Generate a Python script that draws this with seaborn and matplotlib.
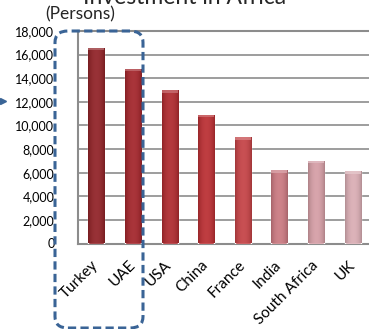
import numpy as np
import matplotlib
matplotlib.use("Agg")
import matplotlib.pyplot as plt
import matplotlib.colors as mcolors
from matplotlib.patches import FancyBboxPatch
import seaborn as sns
import pandas as pd

# Visitors by origin country
countries = ["Turkey", "UAE", "USA", "China", "France", "India", "South Africa", "UK"]
persons = [16600, 14800, 13000, 10900, 9000, 6200, 7000, 6100]
bar_colors = ["#8c1a1f", "#9f1d23", "#ab2227", "#b7272b", "#c23b3f", "#c8747c", "#d39aa2", "#d8aab1"]
yticks = [0, 2000, 4000, 6000, 8000, 10000, 12000, 14000, 16000, 18000]

sns.set_theme(style="white")
plt.rcParams["font.family"] = ["Lato", "DejaVu Sans"]

df = pd.DataFrame({"country": countries, "persons": persons})

fig = plt.figure(figsize=(3.69, 3.29), dpi=100)
ax = fig.add_axes([78 / 369, 1 - 243.5 / 329, 293 / 369, (243.5 - 31) / 329])

sns.barplot(data=df, x="country", y="persons", hue="country", palette=bar_colors,
            legend=False, width=0.44, ax=ax, saturation=1, zorder=3)

# cylinder-style shading on each bar
shade = np.linspace(0, 1, 64)
profile = np.sin(np.pi * (shade * 0.9 + 0.05)) ** 0.7
for patch, col in zip(ax.patches, bar_colors):
    x0, y0 = patch.get_x(), patch.get_y()
    w, h = patch.get_width(), patch.get_height()
    base = np.array(mcolors.to_rgb(col))
    light = np.clip(base + (1 - base) * 0.35, 0, 1)
    img = np.empty((1, 64, 3))
    for i, t in enumerate(profile):
        img[0, i] = base * (0.72 + 0.28 * t) * (1 - t * 0.3) + light * t * 0.3
    im = ax.imshow(img, extent=[x0, x0 + w, y0, y0 + h], aspect="auto",
                   interpolation="bilinear", zorder=4)
    im.set_clip_path(patch)
    cap = FancyBboxPatch((x0, y0 + h - 220), w, 220, boxstyle="square,pad=0",
                         facecolor=light, edgecolor="none", alpha=0.8, zorder=5)
    ax.add_patch(cap)

ax.set_xlim(-0.5, 7.5)
ax.set_ylim(0, 18000)
ax.set_yticks(yticks)
ax.set_yticklabels([f"{v:,}" for v in yticks], fontsize=9)
ax.set_xlabel("")
ax.set_ylabel("")
ax.yaxis.grid(True, color="#8c8c8c", linewidth=1.2, zorder=0)
ax.set_axisbelow(True)
for s in ax.spines.values():
    s.set_color("#8c8c8c")
    s.set_linewidth(1.5)
ax.tick_params(axis="y", length=0, pad=17, colors="black")
ax.tick_params(axis="x", length=0, pad=14, colors="black")
plt.setp(ax.get_xticklabels(), rotation=45, ha="right", va="center",
         rotation_mode="anchor", fontsize=11)

# header texts
fig.text(185 / 369, 1 - 3.5 / 329, "Investment in Africa", ha="center", va="baseline",
         fontsize=16.5)
fig.text(45 / 369, 1 - 14 / 329, "(Persons)", ha="left", va="center", fontsize=12.5)

# dashed highlight frame around the first two countries
frame = FancyBboxPatch((55 / 369, 1 - 328 / 329), 88 / 369, 297 / 329,
                       boxstyle="round,pad=0,rounding_size=0.035",
                       transform=fig.transFigure, facecolor="none",
                       edgecolor="#3a6496", linewidth=2.2, linestyle=(0, (2.7, 1.4)),
                       zorder=10, clip_on=False)
fig.add_artist(frame)
fig.add_artist(plt.Line2D([3 / 369], [1 - 101 / 329], marker=">", markersize=5,
                          color="#3a6496", transform=fig.transFigure))

fig.savefig("out.png", dpi=100)
